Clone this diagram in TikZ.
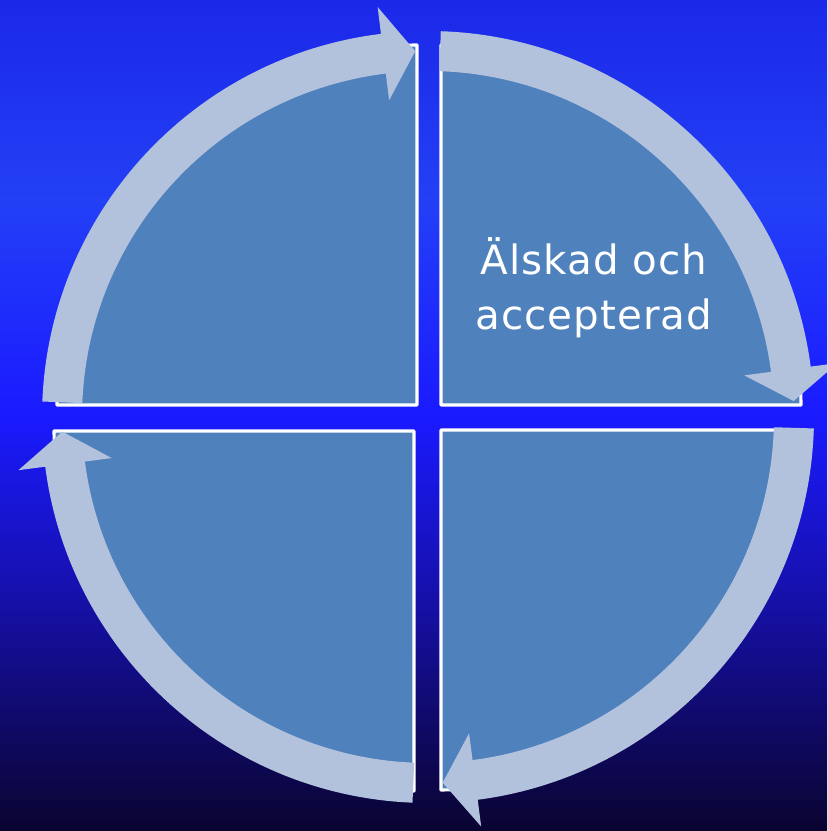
\documentclass[tikz,border=0pt]{standalone}
\usepackage{fontspec}
\newfontfamily\lblfont[LetterSpace=2.5]{DejaVu Sans}
\definecolor{bgA}{HTML}{0A0430}
\definecolor{bgB}{HTML}{1610A8}
\definecolor{bgC}{HTML}{1A1AFF}
\definecolor{bgD}{HTML}{2340F6}
\definecolor{bgE}{HTML}{1B28E8}
\definecolor{wedgeblue}{HTML}{4F81BD}
\definecolor{arrowgray}{HTML}{B3C2DC}
\pgfdeclareverticalshading{bgshade}{100bp}{color(0bp)=(bgA); color(25bp)=(bgA); color(38.9bp)=(bgB); color(50bp)=(bgC); color(63bp)=(bgD); color(75bp)=(bgE); color(100bp)=(bgE)}
\newcommand\ringarrow[3]{%
  \fill[arrowfill] (#1:386) arc[start angle=#1,end angle=#2,radius=386]
    -- (#2:413) -- (#3:366) -- (#2:319) -- (#2:346)
    arc[start angle=#2,end angle=#1,radius=346] -- cycle;}
\begin{document}
\begin{tikzpicture}[x=0.3mm,y=0.3mm,
  wedge/.style={fill=wedgeblue, draw=white, line width=2.6pt, line join=round},
  arrowfill/.style={fill=arrowgray},
  lbl/.style={text=white, font=\lblfont\fontsize{34.5}{47}\selectfont, align=center, inner sep=0pt}]
\useasboundingbox (0,0) rectangle (827,831);
\clip (0,0) rectangle (827,831);
\shade[shading=bgshade] (0,0) rectangle (827,831);
% quadrants
\draw[wedge] (417,426) -- ++(180:360) arc[start angle=180,end angle=90,radius=360] -- cycle;
\draw[wedge] (441,426) -- ++(90:360) arc[start angle=90,end angle=0,radius=360] -- cycle;
\draw[wedge] (441,401) -- ++(0:360) arc[start angle=0,end angle=-90,radius=360] -- cycle;
\draw[wedge] (414,400) -- ++(270:360) arc[start angle=270,end angle=180,radius=360] -- cycle;
% circular arrows
\begin{scope}[shift={(428,414)}]
\ringarrow{177.7}{97}{92}
\ringarrow{88.1}{7.5}{2.5}
\ringarrow{-1.7}{-82.6}{-87.7}
\ringarrow{267.7}{187.4}{182.3}
\end{scope}
\node[lbl] (t1) at (594,543) {Älskad och\\accepterad};
\end{tikzpicture}
\end{document}
